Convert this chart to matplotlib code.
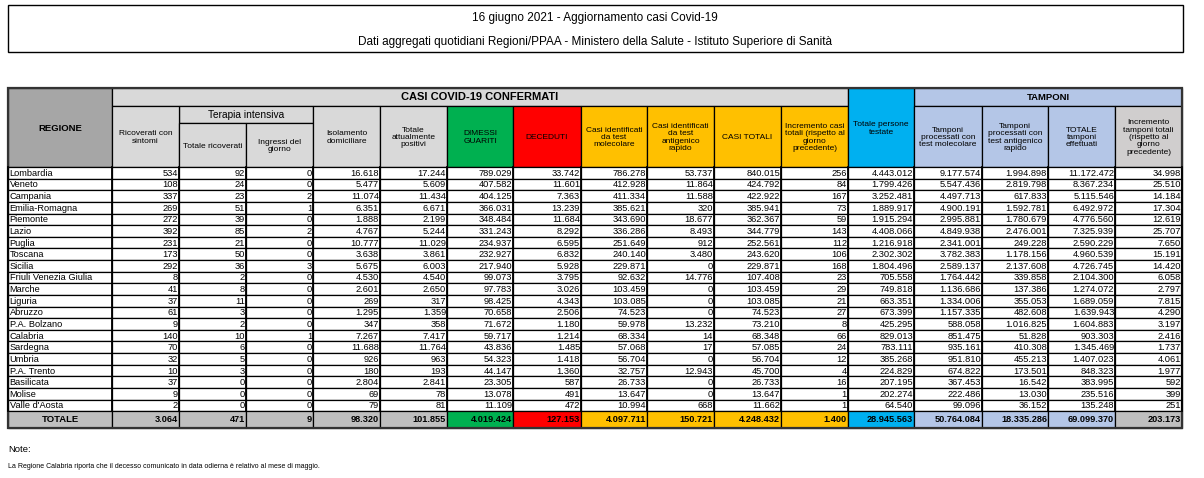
import matplotlib
matplotlib.use("Agg")
import matplotlib.pyplot as plt
from matplotlib.patches import Rectangle

plt.rcParams['font.family'] = ['Liberation Sans Narrow', 'Liberation Sans', 'DejaVu Sans']

# --- data ---
regioni = ["Lombardia", "Veneto", "Campania", "Emilia-Romagna", "Piemonte", "Lazio", "Puglia",
           "Toscana", "Sicilia", "Friuli Venezia Giulia", "Marche", "Liguria", "Abruzzo",
           "P.A. Bolzano", "Calabria", "Sardegna", "Umbria", "P.A. Trento", "Basilicata",
           "Molise", "Valle d'Aosta"]

ricoverati = [534, 108, 337, 269, 272, 392, 231, 173, 292, 8, 41, 37, 61, 9, 140, 70, 32, 10, 37, 9, 2]
ti_totale = [92, 24, 23, 51, 39, 85, 21, 50, 36, 2, 8, 11, 3, 2, 10, 6, 5, 3, 0, 0, 0]
ti_ingressi = [0, 0, 2, 1, 0, 2, 0, 0, 3, 0, 0, 0, 0, 0, 1, 0, 0, 0, 0, 0, 0]
isolamento = [16618, 5477, 11074, 6351, 1888, 4767, 10777, 3638, 5675, 4530, 2601, 269, 1295, 347,
              7267, 11688, 926, 180, 2804, 69, 79]
positivi = [17244, 5609, 11434, 6671, 2199, 5244, 11029, 3861, 6003, 4540, 2650, 317, 1359, 358,
            7417, 11764, 963, 193, 2841, 78, 81]
dimessi = [789029, 407582, 404125, 366031, 348484, 331243, 234937, 232927, 217940, 99073, 97783,
           98425, 70658, 71672, 59717, 43836, 54323, 44147, 23305, 13078, 11109]
deceduti = [33742, 11601, 7363, 13239, 11684, 8292, 6595, 6832, 5928, 3795, 3026, 4343, 2506, 1180,
            1214, 1485, 1418, 1360, 587, 491, 472]
molecolare = [786278, 412928, 411334, 385621, 343690, 336286, 251649, 240140, 229871, 92632, 103459,
              103085, 74523, 59978, 68334, 57068, 56704, 32757, 26733, 13647, 10994]
antigenico = [53737, 11864, 11588, 320, 18677, 8493, 912, 3480, 0, 14776, 0, 0, 0, 13232, 14, 17, 0,
              12943, 0, 0, 668]
casi_totali = [840015, 424792, 422922, 385941, 362367, 344779, 252561, 243620, 229871, 107408, 103459,
               103085, 74523, 73210, 68348, 57085, 56704, 45700, 26733, 13647, 11662]
incremento = [256, 84, 167, 73, 59, 143, 112, 106, 168, 23, 29, 21, 27, 8, 66, 24, 12, 4, 16, 1, 1]
persone = [4443012, 1799426, 3252481, 1889917, 1915294, 4408066, 1216918, 2302302, 1804496, 705558,
           749818, 663351, 673399, 425295, 829013, 783111, 385268, 224829, 207195, 202274, 64540]
tamp_mol = [9177574, 5547436, 4497713, 4900191, 2995881, 4849938, 2341001, 3782383, 2589137, 1764442,
            1136686, 1334006, 1157335, 588058, 851475, 935161, 951810, 674822, 367453, 222486, 99096]
tamp_ant = [1994898, 2819798, 617833, 1592781, 1780679, 2476001, 249228, 1178156, 2137608, 339858,
            137386, 355053, 482608, 1016825, 51828, 410308, 455213, 173501, 16542, 13030, 36152]
tamp_tot = [11172472, 8367234, 5115546, 6492972, 4776560, 7325939, 2590229, 4960539, 4726745, 2104300,
            1274072, 1689059, 1639943, 1604883, 903303, 1345469, 1407023, 848323, 383995, 235516, 135248]
incr_tamp = [34998, 25510, 14184, 17304, 12619, 25707, 7650, 15191, 14420, 6058, 2797, 7815, 4290,
             3197, 2416, 1737, 4061, 1977, 592, 399, 251]

totali = [3064, 471, 9, 98320, 101855, 4019424, 127153, 4097711, 150721, 4248432, 1400,
          28945563, 50764084, 18335286, 69099370, 203173]

intestazioni = ["Ricoverati con\nsintomi", "Totale ricoverati", "Ingressi del\ngiorno",
                "Isolamento\ndomiciliare", "Totale\nattualmente\npositivi", "DIMESSI\nGUARITI",
                "DECEDUTI", "Casi identificati\nda test\nmolecolare",
                "Casi identificati\nda test\nantigenico\nrapido", "CASI TOTALI",
                "Incremento casi\ntotali (rispetto al\ngiorno\nprecedente)",
                "Totale persone\ntestate", "Tamponi\nprocessati con\ntest molecolare",
                "Tamponi\nprocessati con\ntest antigenico\nrapido", "TOTALE\ntamponi\neffettuati",
                "Incremento\ntamponi totali\n(rispetto al\ngiorno\nprecedente)"]

colonne = [ricoverati, ti_totale, ti_ingressi, isolamento, positivi, dimessi, deceduti, molecolare,
           antigenico, casi_totali, incremento, persone, tamp_mol, tamp_ant, tamp_tot, incr_tamp]

GRIGIO = "#d9d9d9"
colori_head = [GRIGIO] * 5 + ["#00b050", "#ff0000", "#ffc000", "#ffc000", "#ffc000", "#ffc000",
                              "#00b0f0", "#b4c6e7", "#b4c6e7", "#b4c6e7", "#d0cece"]
colori_tot = ["#bfbfbf"] * 5 + ["#00b050", "#ff0000", "#ffc000", "#ffc000", "#ffc000", "#ffc000",
                                "#00b0f0", "#b4c6e7", "#b4c6e7", "#b4c6e7", "#bfbfbf"]


def fmt(v):
    return f"{v:,}".replace(",", ".")


# --- layout (pixels) ---
xs = [8, 112, 179, 246, 313, 380, 447, 513, 581, 647, 714, 781, 848, 914, 982, 1048, 1115, 1182]
y_top, y_grp, y_ti, y_head = 88, 106, 123, 167
row_h = 11.63
y_tot = y_head + row_h * len(regioni)
y_bot = 428

fig = plt.figure(figsize=(12.04, 4.78), dpi=100)
ax = fig.add_axes([0, 0, 1, 1])
ax.set_xlim(0, 1204)
ax.set_ylim(478, 0)
ax.axis('off')


def cella(x0, y0, x1, y1, fc="white", lw=0.9):
    ax.add_patch(Rectangle((x0, y0), x1 - x0, y1 - y0, facecolor=fc, edgecolor="black", lw=lw))


# title box
cella(8, 5, 1183, 52, lw=1.0)
ax.text(595, 18, "16 giugno 2021 - Aggiornamento casi Covid-19", ha="center", va="center", fontsize=8.5)
ax.text(595, 42, "Dati aggregati quotidiani Regioni/PPAA - Ministero della Salute - Istituto Superiore di Sanità",
        ha="center", va="center", fontsize=8.5)

# header
cella(xs[0], y_top, xs[1], y_head, "#a6a6a6")
ax.text((xs[0] + xs[1]) / 2, 128, "REGIONE", ha="center", va="center", fontsize=6.8, weight="bold")
cella(xs[1], y_top, xs[12], y_grp, GRIGIO)
ax.text((xs[1] + xs[12]) / 2, 97, "CASI COVID-19 CONFERMATI", ha="center", va="center",
        fontsize=8, weight="bold")
cella(xs[13], y_top, xs[17], y_grp, "#b4c6e7")
ax.text((xs[13] + xs[17]) / 2, 97, "TAMPONI", ha="center", va="center", fontsize=6.8, weight="bold")
cella(xs[2], y_grp, xs[4], y_ti, GRIGIO)
ax.text((xs[2] + xs[4]) / 2, 114.5, "Terapia intensiva", ha="center", va="center", fontsize=7.3)

for i, testo in enumerate(intestazioni):
    x0, x1 = xs[i + 1], xs[i + 2]
    if i in (1, 2):
        y0 = y_ti
    elif i == 11:
        y0 = y_top
    else:
        y0 = y_grp
    cella(x0, y0, x1, y_head, colori_head[i])
    ax.text((x0 + x1) / 2, (y0 + y_head) / 2 + 1, testo, ha="center", va="center",
            fontsize=6.0, linespacing=1.1)

# data rows
for r, nome in enumerate(regioni):
    y0 = y_head + r * row_h
    yc = y0 + row_h / 2 + 0.5
    cella(xs[0], y0, xs[1], y0 + row_h)
    ax.text(xs[0] + 1.5, yc, nome, ha="left", va="center", fontsize=6.7)
    for c, col in enumerate(colonne):
        cella(xs[c + 1], y0, xs[c + 2], y0 + row_h)
        ax.text(xs[c + 2] - 1, yc, fmt(col[r]), ha="right", va="center", fontsize=6.7)

# thicker column separators in the body
for x in xs:
    ax.plot([x, x], [y_head, y_tot], color="black", lw=1.3)

# totals row
cella(xs[0], y_tot, xs[1], y_bot, "#bfbfbf")
ax.text((xs[0] + xs[1]) / 2, (y_tot + y_bot) / 2, "TOTALE", ha="center", va="center",
        fontsize=6.8, weight="bold")
for c, v in enumerate(totali):
    cella(xs[c + 1], y_tot, xs[c + 2], y_bot, colori_tot[c])
    ax.text(xs[c + 2] - 1, (y_tot + y_bot) / 2, fmt(v), ha="right", va="center",
            fontsize=6.6, weight="bold")

# thick outer frame
ax.add_patch(Rectangle((xs[0], y_top), xs[-1] - xs[0], y_bot - y_top, fill=False,
                       edgecolor="#333333", lw=1.6))

# notes
ax.text(8, 450, "Note:", ha="left", va="center", fontsize=6.8)
ax.text(8, 467, "La Regione Calabria riporta che il decesso comunicato in data odierna è relativo al mese di maggio.",
        ha="left", va="center", fontsize=5)

fig.savefig("out.png", dpi=100)
